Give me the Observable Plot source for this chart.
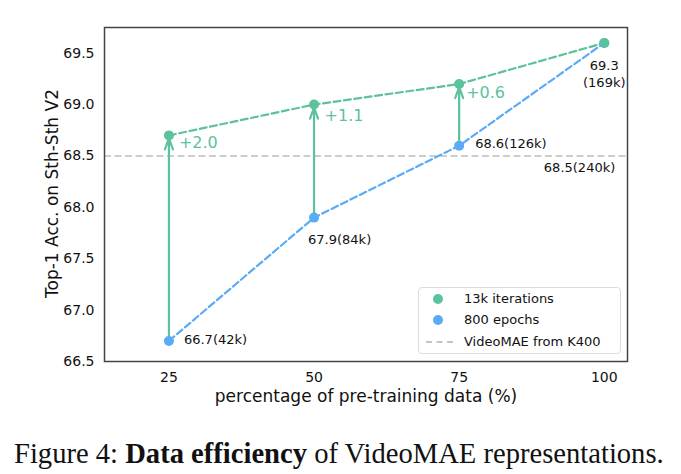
<!DOCTYPE html>
<html>
<head>
<meta charset="utf-8">
<script src="https://cdn.jsdelivr.net/npm/d3@7"></script>
<script src="https://cdn.jsdelivr.net/npm/@observablehq/plot@0.6"></script>
<style>
  html, body { margin: 0; padding: 0; background: #fff; }
  #wrap { position: relative; width: 681px; height: 474px; overflow: hidden; font-family: "DejaVu Sans", sans-serif; }
  #chart { position: absolute; left: 0; top: 0; }
  #legend { position: absolute; left: 418px; top: 287px; width: 201px; height: 65px; border: 1px solid #dcdcdc; border-radius: 4px; background: rgba(255,255,255,0.85); font-size: 13px; color: #111; }
  .row { position: absolute; left: 0; height: 20px; line-height: 20px; }
  .row .sym { position: absolute; left: 14px; top: 5px; width: 10px; height: 10px; border-radius: 50%; }
  .row .dash { position: absolute; left: 7px; top: 9px; width: 27px; height: 0; border-top: 2px dashed #c4c4c4; }
  .row .lab { position: absolute; left: 45px; white-space: nowrap; }
  #caption { position: absolute; left: 14px; top: 438px; font-family: "Liberation Serif", "Times New Roman", serif; font-size: 28.6px; color: #111; white-space: nowrap; }
</style>
</head>
<body>
<div id="wrap">
  <div id="chart"></div>
  <div id="legend"></div>
  <div id="caption"></div>
</div>
<script>
// ---- data ----
const pct = [25, 50, 75, 100];
const iter13k = [68.7, 69.0, 69.2, 69.6];
const epochs800 = [66.7, 67.9, 68.6, 69.6];
const k400 = 68.5;
const gainLabels = ["+2.0", "+1.1", "+0.6"];
const pointLabels = ["66.7(42k)", "67.9(84k)", "68.6(126k)", "69.3\n(169k)"];
const k400Label = "68.5(240k)";
const xTicks = [25, 50, 75, 100];
const yTicks = [66.5, 67.0, 67.5, 68.0, 68.5, 69.0, 69.5];
const seriesNames = ["13k iterations", "800 epochs", "VideoMAE from K400"];
const xLabel = "percentage of pre-training data (%)";
const yLabel = "Top-1 Acc. on Sth-Sth V2";
const captionPrefix = "Figure 4: ";
const captionBold = "Data efficiency";
const captionRest = " of VideoMAE representations.";

// ---- styles ----
const GREEN = "#5cc29b";
const BLUE = "#5aabf6";
const GRAY = "#bdbdbd";

const rows = pct.map((p, i) => ({p, g: iter13k[i], b: epochs800[i]}));
const gainRows = rows.slice(0, 3).map((r, i) => ({...r, label: gainLabels[i]}));

const gainOffsets = [[10, 7], [10.5, 11], [7, 9]];
const labelOffsets = [
  {dx: 15, dy: -2, textAnchor: "start"},
  {dx: -6, dy: 21, textAnchor: "start"},
  {dx: 16, dy: -3, textAnchor: "start"},
  {dx: 0, dy: 30, textAnchor: "middle"}
];

const marks = [
  Plot.ruleY([k400], {stroke: GRAY, strokeWidth: 1.6, strokeDasharray: "7,3.5"}),
  Plot.line(rows, {x: "p", y: "g", stroke: GREEN, strokeWidth: 2.2, strokeDasharray: "7,3.5"}),
  Plot.line(rows, {x: "p", y: "b", stroke: BLUE, strokeWidth: 2.2, strokeDasharray: "7,3.5"}),
  Plot.arrow(gainRows, {x1: "p", y1: "b", x2: "p", y2: "g", stroke: GREEN, strokeWidth: 2.2, headLength: 8, headAngle: 40, insetEnd: 3}),
  Plot.dot(rows, {x: "p", y: "b", r: 5, fill: BLUE}),
  Plot.dot(rows, {x: "p", y: "g", r: 5, fill: GREEN}),
  ...gainRows.map((r, i) => Plot.text([r], {x: "p", y: "g", text: "label", fill: GREEN, fontSize: 16, textAnchor: "start", dx: gainOffsets[i][0], dy: gainOffsets[i][1]})),
  ...rows.map((r, i) => Plot.text([{...r, label: pointLabels[i]}], {x: "p", y: "b", text: "label", fill: "#111", fontSize: 13, lineHeight: 1.33, ...labelOffsets[i]})),
  Plot.text([{p: 100, v: k400, label: k400Label}], {x: "p", y: "v", text: "label", fill: "#111", fontSize: 13, textAnchor: "end", dx: 11, dy: 12}),
  Plot.axisY({ticks: yTicks, tickSize: 0, tickPadding: 10, tickFormat: d3.format(".1f"), fontSize: 14, label: null, color: "#111"}),
  Plot.axisX({ticks: xTicks, tickSize: 0, tickPadding: 11, tickFormat: d => String(d), fontSize: 14, label: null, color: "#111"}),
  Plot.text([xLabel], {frameAnchor: "bottom", dy: 40, fontSize: 17, fill: "#111"}),
  Plot.text([yLabel], {frameAnchor: "left", textAnchor: "middle", rotate: -90, dx: -52, dy: -1, fontSize: 17, fill: "#111"}),
  Plot.frame({stroke: "#444", strokeWidth: 1.5})
];

const chart = Plot.plot({
  width: 681,
  height: 420,
  marginLeft: 104,
  marginRight: 54,
  marginTop: 27,
  marginBottom: 59,
  style: {fontFamily: "DejaVu Sans, sans-serif", background: "transparent"},
  x: {domain: [13.9, 104], ticks: xTicks},
  y: {domain: [66.5, 69.75], ticks: yTicks},
  marks
});
document.getElementById("chart").appendChild(chart);

// legend
const legend = document.getElementById("legend");
const legendSyms = [
  `<span class="sym" style="background:${GREEN}"></span>`,
  `<span class="sym" style="background:${BLUE}"></span>`,
  `<span class="dash"></span>`
];
seriesNames.forEach((name, i) => {
  const row = document.createElement("div");
  row.className = "row";
  row.style.top = (1 + i * 21.3) + "px";
  row.style.width = "100%";
  row.innerHTML = legendSyms[i] + `<span class="lab">${name}</span>`;
  legend.appendChild(row);
});

// caption
const cap = document.getElementById("caption");
cap.append(captionPrefix);
const b = document.createElement("b");
b.textContent = captionBold;
cap.append(b);
cap.append(captionRest);
</script>
</body>
</html>
